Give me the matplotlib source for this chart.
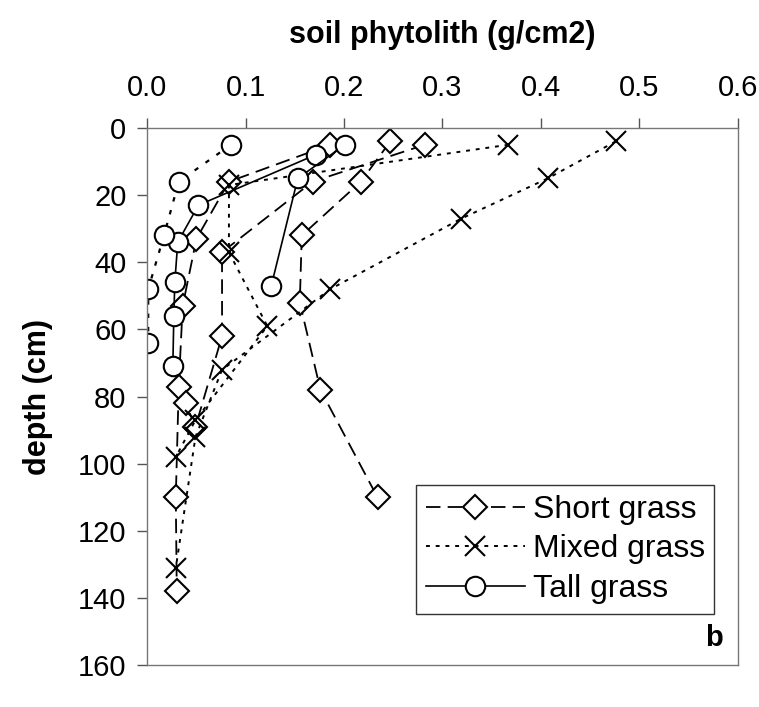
import matplotlib
matplotlib.use('Agg')
import matplotlib.pyplot as plt
from matplotlib.lines import Line2D

plt.rcParams['font.family'] = ['Liberation Sans', 'DejaVu Sans']

# short grass profiles (phytolith g/cm2, depth cm)
short1_x = [0.186, 0.083, 0.050, 0.036, 0.032, 0.029, 0.030]
short1_d = [5, 16, 33, 53, 77, 110, 138]
short2_x = [0.282, 0.168, 0.076, 0.076, 0.049, 0.039]
short2_d = [5, 16, 37, 62, 89, 82]
short3_x = [0.247, 0.217, 0.157, 0.155, 0.176, 0.234]
short3_d = [4, 16, 32, 52, 78, 110]

# mixed grass profiles
mixed1_x = [0.476, 0.407, 0.319, 0.186, 0.076, 0.049, 0.029]
mixed1_d = [4, 15, 27, 48, 72, 92, 131]
mixed2_x = [0.367, 0.083, 0.083, 0.122, 0.049, 0.029]
mixed2_d = [5, 17, 37, 59, 87, 98]

# tall grass profiles
tall1_x = [0.171, 0.052, 0.031, 0.028, 0.027, 0.026]
tall1_d = [8, 23, 34, 46, 56, 71]
tall2_x = [0.201, 0.153, 0.126]
tall2_d = [5, 15, 47]
tall3_x = [0.085, 0.032, 0.017, 0.001, 0.001]
tall3_d = [5, 16, 32, 48, 64]

fig = plt.figure(figsize=(7.59, 7.07), dpi=100)
ax = fig.add_axes([0.194, 0.059, 0.778, 0.760])

mk = dict(color='black', mfc='white', mec='black', ms=14, mew=1.5)
dash = (0, (8, 4))
dot = (0, (2, 3))

for xs, ds in [(short1_x, short1_d), (short2_x, short2_d), (short3_x, short3_d)]:
    ax.plot(xs, ds, marker='D', linestyle=dash, lw=1.3, **{**mk, 'ms': 12})
for xs, ds in [(mixed1_x, mixed1_d), (mixed2_x, mixed2_d)]:
    ax.plot(xs, ds, marker='x', linestyle=dot, lw=1.4, **{**mk, 'ms': 15})
ax.plot(tall1_x, tall1_d, marker='o', linestyle='-', lw=1.2, **mk)
ax.plot(tall2_x, tall2_d, marker='o', linestyle='-', lw=1.2, **mk)
ax.plot(tall3_x, tall3_d, marker='o', linestyle=(0, (2, 4)), lw=1.6, **mk)

ax.set_xlim(0, 0.6)
ax.set_ylim(160, 0)
ax.set_xticks([0, 0.1, 0.2, 0.3, 0.4, 0.5, 0.6])
ax.set_xticklabels(['0.0', '0.1', '0.2', '0.3', '0.4', '0.5', '0.6'])
ax.set_yticks(range(0, 161, 20))
ax.xaxis.tick_top()
ax.xaxis.set_label_position('top')
ax.tick_params(axis='both', labelsize=21, direction='out', length=7, width=1, color='#555555')
ax.tick_params(axis='x', pad=12)
ax.tick_params(axis='y', pad=8)
ax.set_xlabel('soil phytolith (g/cm2)', fontsize=22, fontweight='bold', labelpad=22)
ax.set_ylabel('depth (cm)', fontsize=22, fontweight='bold', labelpad=18)
for s in ax.spines.values():
    s.set_color('#777777')
    s.set_linewidth(1)

handles = [
    Line2D([], [], marker='D', linestyle=dash, lw=1.3, **{**mk, 'ms': 12}),
    Line2D([], [], marker='x', linestyle=dot, lw=1.4, **{**mk, 'ms': 15}),
    Line2D([], [], marker='o', linestyle='-', lw=1.2, **mk),
]
leg = ax.legend(handles, ['Short grass', 'Mixed grass', 'Tall grass'],
                loc='upper left', bbox_to_anchor=(0.455, 0.335), fontsize=23,
                frameon=True, fancybox=False, handlelength=3.1, borderpad=0.3,
                labelspacing=0.3, handletextpad=0.25, borderaxespad=0)
leg.get_frame().set_edgecolor('black')
leg.get_frame().set_linewidth(1)

ax.text(0.96, 0.05, 'b', transform=ax.transAxes, fontsize=21, fontweight='bold',
        ha='center', va='center')

fig.savefig('out.png', dpi=100)
